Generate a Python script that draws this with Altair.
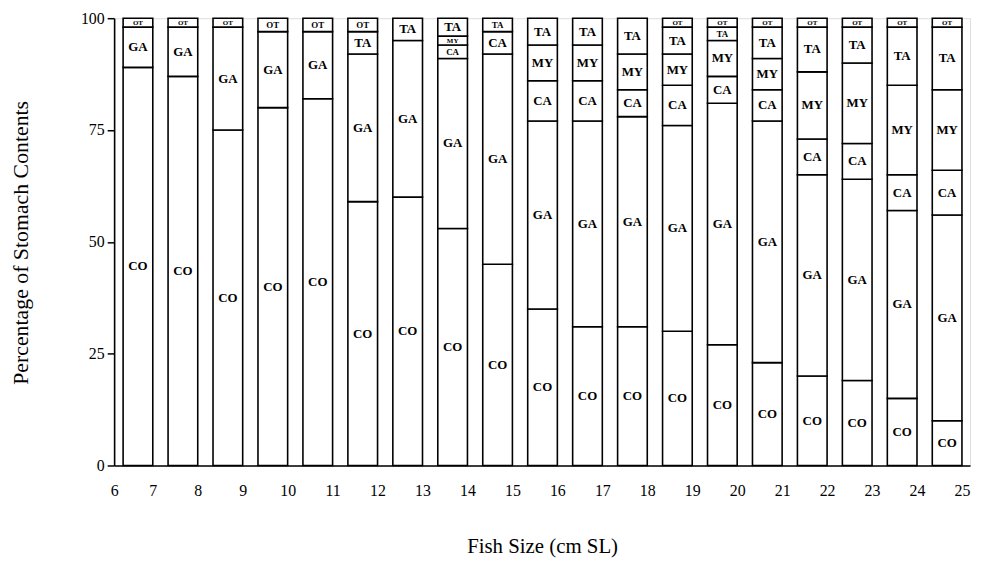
import altair as alt
import pandas as pd

# Upper bound of each fish-size class (cm SL); classes are 6-7, 7-8, ..., 24-25
size_upper = [7, 8, 9, 10, 11, 12, 13, 14, 15, 16, 17, 18, 19, 20, 21, 22, 23, 24, 25]

# Percentage of stomach contents per prey category (bottom to top of stack)
categories = ["CO", "GA", "CA", "MY", "TA", "OT"]
CO = [89, 87, 75, 80, 82, 59, 60, 53, 45, 35, 31, 31, 30, 27, 23, 20, 19, 15, 10]
GA = [9, 11, 23, 17, 15, 33, 35, 38, 47, 42, 46, 47, 46, 54, 54, 45, 45, 42, 46]
CA = [0, 0, 0, 0, 0, 0, 0, 3, 5, 9, 9, 6, 9, 6, 7, 8, 8, 8, 10]
MY = [0, 0, 0, 0, 0, 0, 0, 2, 0, 8, 8, 8, 7, 8, 7, 15, 18, 20, 18]
TA = [0, 0, 0, 0, 0, 5, 5, 4, 3, 6, 6, 8, 6, 3, 7, 10, 8, 13, 14]
OT = [2, 2, 2, 3, 3, 3, 0, 0, 0, 0, 0, 0, 2, 2, 2, 2, 2, 2, 2]

y_ticks = [0, 25, 50, 75, 100]
x_ticks = [6, 7, 8, 9, 10, 11, 12, 13, 14, 15, 16, 17, 18, 19, 20, 21, 22, 23, 24, 25]

series = {"CO": CO, "GA": GA, "CA": CA, "MY": MY, "TA": TA, "OT": OT}
rows = []
for ci, cat in enumerate(categories):
    for i, up in enumerate(size_upper):
        v = series[cat][i]
        if v > 0:
            rows.append({"upper": up, "cat": cat, "order": ci, "pct": v})
df = pd.DataFrame(rows)

BAR_W = 0.66
X_MIN, X_MAX = 6.14, 25.18
serif = "Liberation Serif"

xscale = alt.Scale(domain=[X_MIN, X_MAX], nice=False, zero=False)
yscale = alt.Scale(domain=[0, 100], nice=False)

axis_vals = [X_MIN] + x_ticks[1:]

base = (
    alt.Chart(df)
    .transform_stack(stack="pct", groupby=["upper"], sort=[alt.SortField("order")], as_=["y0", "y1"])
    .transform_calculate(left=f"datum.upper - {BAR_W}", mid="(datum.y0 + datum.y1) / 2")
)

bars = base.mark_rect(fill="white", stroke="black", strokeWidth=1.6).encode(
    x=alt.X(
        "left:Q",
        scale=xscale,
        title="Fish Size (cm SL)",
        axis=alt.Axis(
            values=axis_vals,
            labelExpr="datum.value < 6.5 ? '6' : format(datum.value, 'd')",
            ticks=False,
            grid=False,
            domain=True,
            domainColor="black",
            domainWidth=1.6,
            labelFont=serif,
            labelFontSize=16,
            labelColor="black",
            labelPadding=17,
            labelFlush=False,
            labelOverlap=False,
            titleFont=serif,
            titleFontSize=21,
            titleFontWeight="normal",
            titleColor="black",
            titlePadding=38,
        ),
    ),
    x2="upper:Q",
    y=alt.Y(
        "y0:Q",
        scale=yscale,
        title="Percentage of Stomach Contents",
        axis=alt.Axis(
            values=y_ticks,
            grid=False,
            domainColor="black",
            domainWidth=1.6,
            tickColor="black",
            tickWidth=1.5,
            tickSize=7,
            labelFont=serif,
            labelFontSize=16,
            labelColor="black",
            labelPadding=3,
            titleFont=serif,
            titleFontSize=22,
            titleFontWeight="normal",
            titleColor="black",
            titleAngle=-90,
            titleX=-94,
            titleY=226,
            titleAlign="center",
            titleBaseline="middle",
        ),
    ),
    y2="y1:Q",
)

labels = base.mark_text(font=serif, fontWeight="bold", color="black", baseline="middle").encode(
    x=alt.X("xm:Q", scale=xscale),
    y=alt.Y("mid:Q", scale=yscale),
    text="cat:N",
    size=alt.Size(
        "pct:Q",
        scale=alt.Scale(type="threshold", domain=[2.5, 3.5], range=[7, 9, 13]),
        legend=None,
    ),
).transform_calculate(xm=f"datum.upper - {BAR_W} / 2")

chart = (
    alt.layer(bars, labels)
    .properties(
        width=863,
        height=451,
        autosize=alt.AutoSizeParams(type="none"),
        padding={"left": 107, "top": 8, "right": 5, "bottom": 92},
    )
    .configure_view(stroke="black", strokeWidth=1.6)
    .configure(background="white")
)

chart.save("out.html", embed_options={"renderer": "svg", "actions": False})
